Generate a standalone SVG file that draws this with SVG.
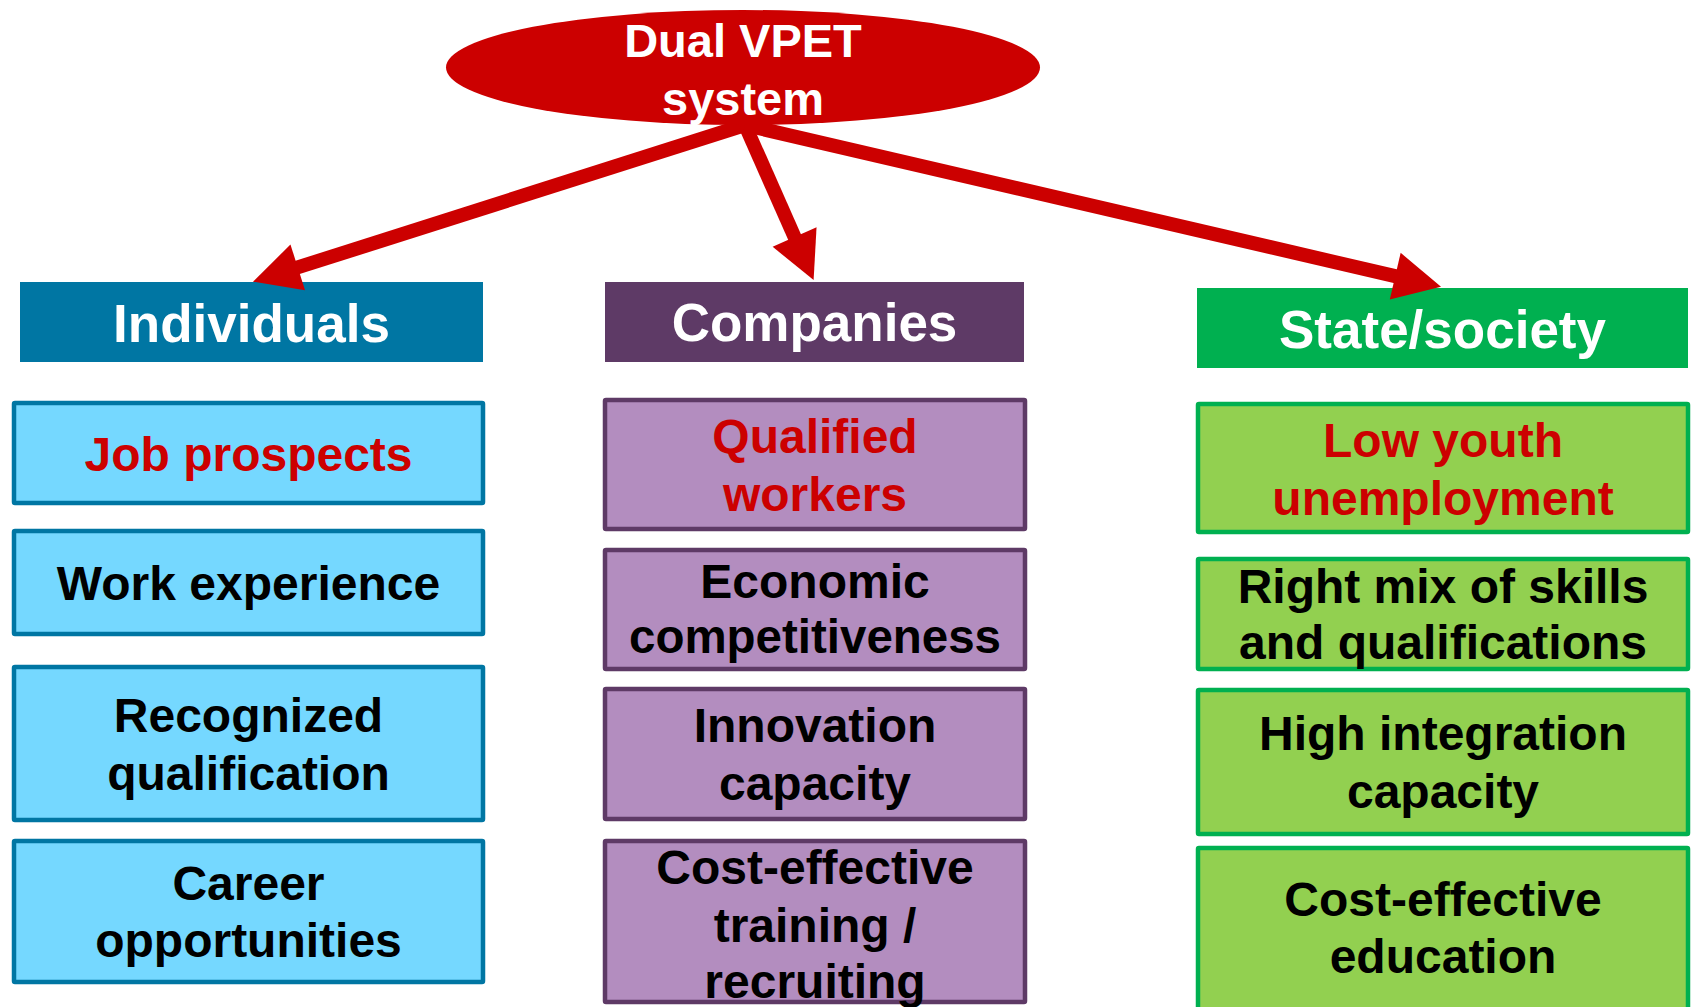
<svg xmlns="http://www.w3.org/2000/svg" width="1693" height="1007" viewBox="0 0 1693 1007">
<style>
text{font-family:"Liberation Sans",Arial,sans-serif;font-weight:bold;text-anchor:middle}
.hd{font-size:53px;fill:#fff}
.it{font-size:48px;fill:#000}
.red{fill:#CC0000}
.ib{fill:#75D8FF;stroke:#0076A3;stroke-width:4.5}
.cb{fill:#B38DBF;stroke:#5E3A66;stroke-width:4.5}
.sb{fill:#92D050;stroke:#00B050;stroke-width:4.5}
.conn{stroke:#CC0000;stroke-width:14;fill:none;marker-end:url(#ah)}
</style>
<defs>
<marker id="ah" markerUnits="userSpaceOnUse" markerWidth="48" markerHeight="50" viewBox="0 0 48 50" refX="1" refY="25" orient="auto" overflow="visible">
<path d="M0,1 L47,25 L0,49 Z" fill="#CC0000"/>
</marker>
</defs>
<rect width="1693" height="1007" fill="#fff"/>

<g id="individuals">
<rect x="20" y="282" width="463" height="80" fill="#0076A3"/>
<text class="hd" x="251.5" y="342">Individuals</text>
</g>
<g id="companies">
<rect x="605" y="282" width="419" height="80" fill="#5E3A66"/>
<text class="hd" x="814.5" y="341">Companies</text>
</g>
<g id="state">
<rect x="1197" y="288" width="491" height="80" fill="#00B050"/>
<text class="hd" x="1442.5" y="348">State/society</text>
</g>

<g id="ind-job"><rect class="ib" x="14" y="403" width="469" height="100" rx="1"/><text class="it red" x="248.5" y="471">Job prospects</text></g>
<g id="ind-work"><rect class="ib" x="14" y="531" width="469" height="103" rx="1"/><text class="it" x="248.5" y="600">Work experience</text></g>
<g id="ind-recog"><rect class="ib" x="14" y="667" width="469" height="153" rx="1"/><text class="it" x="248.5" y="732">Recognized</text><text class="it" x="248.5" y="790">qualification</text></g>
<g id="ind-career"><rect class="ib" x="14" y="841" width="469" height="141" rx="1"/><text class="it" x="248.5" y="900">Career</text><text class="it" x="248.5" y="957">opportunities</text></g>

<g id="comp-qual"><rect class="cb" x="605" y="400" width="420" height="129" rx="1"/><text class="it red" x="815" y="453">Qualified</text><text class="it red" x="815" y="511">workers</text></g>
<g id="comp-econ"><rect class="cb" x="605" y="550" width="420" height="119" rx="1"/><text class="it" x="815" y="598">Economic</text><text class="it" x="815" y="653" textLength="372" lengthAdjust="spacingAndGlyphs">competitiveness</text></g>
<g id="comp-innov"><rect class="cb" x="605" y="689" width="420" height="130" rx="1"/><text class="it" x="815" y="742">Innovation</text><text class="it" x="815" y="800">capacity</text></g>
<g id="comp-cost"><rect class="cb" x="605" y="841" width="420" height="161" rx="1"/><text class="it" x="815" y="884">Cost-effective</text><text class="it" x="815" y="942">training /</text><text class="it" x="815" y="998">recruiting</text></g>

<g id="state-youth"><rect class="sb" x="1198" y="404" width="490" height="128" rx="1"/><text class="it red" x="1443" y="457">Low youth</text><text class="it red" x="1443" y="515">unemployment</text></g>
<g id="state-mix"><rect class="sb" x="1198" y="559" width="490" height="110" rx="1"/><text class="it" x="1443" y="603">Right mix of skills</text><text class="it" x="1443" y="659">and qualifications</text></g>
<g id="state-integ"><rect class="sb" x="1198" y="690" width="490" height="144" rx="1"/><text class="it" x="1443" y="750">High integration</text><text class="it" x="1443" y="808">capacity</text></g>
<g id="state-cost"><rect class="sb" x="1198" y="848" width="490" height="170" rx="1"/><text class="it" x="1443" y="916">Cost-effective</text><text class="it" x="1443" y="973">education</text></g>

<g id="connectors">
<line class="conn" x1="745" y1="125" x2="296.8" y2="267.7"/>
<line class="conn" x1="745" y1="125" x2="795" y2="238"/>
<line class="conn" x1="745" y1="125" x2="1396.2" y2="276.4"/>
</g>

<g id="dual-vpet">
<ellipse cx="743" cy="67.5" rx="297" ry="57.5" fill="#CC0000"/>
<text class="hd" style="font-size:47px" x="743" y="57">Dual VPET</text>
<text class="hd" style="font-size:47px" x="743" y="115">system</text>
</g>
</svg>
